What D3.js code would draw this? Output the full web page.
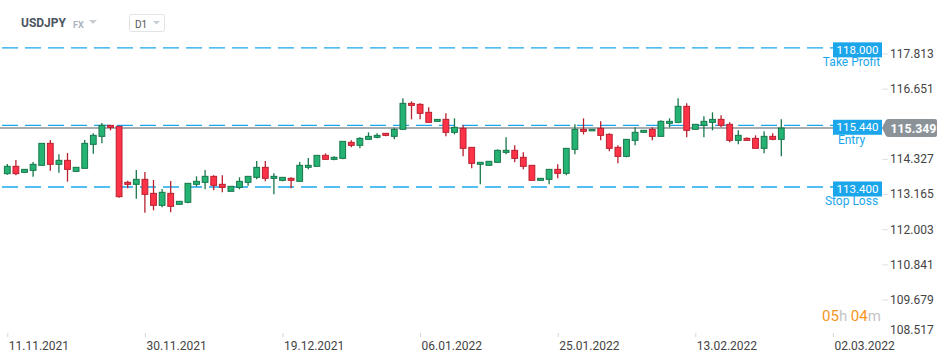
<!DOCTYPE html>
<html>
<head>
<meta charset="utf-8">
<script src="https://cdn.jsdelivr.net/npm/d3@7"></script>
<style>
  html, body { margin: 0; padding: 0; background: #fff; }
  svg { display: block; font-family: Roboto, 'Noto Sans', sans-serif; }
</style>
</head>
<body>
<svg id="chart"></svg>
<script>
// USDJPY D1 candles (oldest first)
const open = [113.840,114.083,113.884,113.950,114.116,114.843,114.149,114.281,113.917,114.017,
  114.810,115.074,115.438,115.405,113.554,113.488,113.653,113.190,112.793,113.190,
  112.826,112.893,113.488,113.554,113.752,113.488,113.256,113.388,113.554,113.719,
  114.050,113.686,113.620,113.686,113.587,114.050,114.083,114.446,114.314,114.347,
  114.876,114.777,114.975,115.041,115.174,115.074,115.306,116.165,116.132,115.868,
  115.570,115.636,115.207,115.339,114.711,114.149,114.116,114.215,114.545,114.612,
  114.380,114.116,113.620,113.653,113.983,113.851,114.645,115.306,115.273,115.339,
  115.140,114.711,114.413,114.942,115.207,115.306,115.074,115.504,115.537,116.066,
  115.306,115.438,115.537,115.636,115.471,114.942,115.008,115.008,114.678,115.074,
  114.975];
const high = [114.160,114.292,113.983,114.226,114.843,114.953,114.479,114.523,114.050,114.953,
  115.174,115.515,115.438,115.405,113.609,113.961,113.895,113.631,113.333,113.598,
  112.926,113.521,113.752,113.961,113.785,113.785,113.422,113.719,113.752,114.259,
  114.259,113.851,113.719,113.719,114.226,114.358,114.446,114.512,114.413,114.909,
  114.942,115.041,115.207,115.174,115.174,115.361,116.331,116.231,116.165,116.033,
  115.636,115.835,115.669,115.438,114.711,114.215,114.248,114.645,115.041,114.777,
  114.545,114.116,113.686,113.983,114.149,114.678,115.471,115.669,115.306,115.570,
  115.174,114.777,114.975,115.372,115.273,115.372,115.603,115.669,116.331,116.165,
  115.471,115.736,115.868,115.769,115.537,115.273,115.041,115.107,115.240,115.174,
  115.636];
const low = [113.807,113.785,113.884,113.741,114.116,113.939,113.873,113.576,113.917,114.017,
  114.501,114.843,115.273,113.047,113.355,113.014,112.551,112.628,112.727,112.562,
  112.826,112.859,113.410,113.322,113.289,113.223,113.256,113.322,113.444,113.653,
  113.587,113.157,113.587,113.355,113.587,113.983,114.083,114.314,114.281,114.314,
  114.711,114.678,114.975,115.008,115.074,114.975,115.306,115.636,115.636,115.537,
  115.570,115.074,115.140,114.413,114.017,113.488,114.116,114.215,114.479,114.215,
  113.983,113.620,113.620,113.488,113.686,113.785,114.479,115.140,115.273,114.942,
  114.578,114.182,114.380,114.777,115.207,114.942,115.074,115.372,115.504,115.041,
  115.306,115.041,115.273,115.372,114.876,114.810,114.942,114.678,114.512,114.942,
  114.413];
const close = [114.083,113.840,113.983,114.149,114.843,114.149,114.281,113.983,114.050,114.843,
  115.107,115.438,115.372,113.080,113.488,113.653,113.157,112.793,113.223,112.760,
  112.926,113.521,113.587,113.752,113.455,113.388,113.422,113.587,113.752,114.050,
  113.686,113.752,113.719,113.620,114.116,114.116,114.446,114.314,114.380,114.909,
  114.777,115.008,115.074,115.107,115.107,115.306,116.165,116.099,115.835,115.537,
  115.636,115.207,115.372,114.678,114.182,114.215,114.248,114.612,114.612,114.347,
  114.083,113.620,113.686,113.983,113.851,114.678,115.306,115.240,115.306,115.107,
  114.678,114.413,114.975,115.207,115.273,115.074,115.570,115.570,116.066,115.273,
  115.471,115.570,115.636,115.438,114.942,115.107,114.942,114.678,115.074,114.975,
  115.349];

// axes
const priceTicks = [117.813, 116.651, 115.489, 114.327, 113.165, 112.003, 110.841, 109.679, 108.517];
const dateTickIndex = [0, 16, 32, 48, 64, 80, 96];
const dateTickLabels = ['11.11.2021', '30.11.2021', '19.12.2021', '06.01.2022', '25.01.2022', '13.02.2022', '02.03.2022'];

// trade levels
const levelValues = [118.000, 115.440, 113.400];
const levelNames = ['Take Profit', 'Entry', 'Stop Loss'];
const lastPrice = 115.349;

const width = 950, height = 360;
const green = '#24b373', greenDark = '#17774b';
const red = '#ff3347', redDark = '#b8202f';
const blue = '#1ba6ec';

const svg = d3.select('#chart')
  .attr('width', width)
  .attr('height', height)
  .attr('viewBox', [0, 0, width, height]);

const x = d3.scaleLinear([0, 96], [7.3, 832.9]);
const y = d3.scaleLinear([108.517, 117.813], [334.7, 53.5]);
const bodyW = 5.8;

// Header
const head = svg.append('g');
head.append('text').attr('x', 21).attr('y', 27)
  .attr('font-size', 12).attr('font-weight', 700).attr('fill', '#4b5560').text('USDJPY');
head.append('text').attr('x', 73).attr('y', 27.5)
  .attr('font-size', 9).attr('font-weight', 700).attr('fill', '#a9b4c0').text('FX');
head.append('path').attr('d', 'M89,20 L97,20 L93,24 Z').attr('fill', '#c8cdd2');
head.append('rect').attr('x', 129.5).attr('y', 14.5).attr('width', 35).attr('height', 17).attr('rx', 2)
  .attr('fill', '#fff').attr('stroke', '#e1e3e6');
head.append('text').attr('x', 135).attr('y', 27.5)
  .attr('font-size', 10).attr('fill', '#555').text('D1');
head.append('path').attr('d', 'M153,21 L160,21 L156.5,24.5 Z').attr('fill', '#c8cdd2');

// Y axis (right)
svg.append('g')
  .attr('transform', 'translate(882,0)')
  .call(d3.axisRight(y).tickValues(priceTicks).tickSize(6).tickPadding(2).tickFormat(d3.format('.3f')))
  .call(g => g.select('.domain').remove())
  .call(g => g.selectAll('.tick line').attr('stroke', '#e0e0e0'))
  .call(g => g.selectAll('.tick text')
    .attr('font-family', 'Roboto, sans-serif').attr('font-size', 12).attr('fill', '#444'))
  .call(g => g.selectAll('.tick').filter(d => d === 108.517)
    .call(t => t.select('line').remove())
    .call(t => t.select('text').attr('y', -5)));

// X axis
svg.append('g')
  .attr('transform', 'translate(0,333)')
  .call(d3.axisBottom(x).tickValues(dateTickIndex).tickSize(4).tickPadding(4)
    .tickFormat((d, i) => dateTickLabels[i]))
  .call(g => g.select('.domain').remove())
  .call(g => g.selectAll('.tick line').attr('stroke', '#d6d6d6'))
  .call(g => g.selectAll('.tick text')
    .attr('text-anchor', 'start').attr('x', 1)
    .attr('font-family', 'Roboto, sans-serif').attr('font-size', 12).attr('fill', '#444'));

// Level lines
svg.append('g')
  .selectAll('line')
  .data(levelValues)
  .join('line')
    .attr('x1', 2).attr('x2', 833)
    .attr('y1', d => y(d)).attr('y2', d => y(d))
    .attr('stroke', blue).attr('stroke-width', 1.3)
    .attr('stroke-dasharray', '16,7');

// Last price line
svg.append('line')
  .attr('x1', 0).attr('x2', 882)
  .attr('y1', y(lastPrice)).attr('y2', y(lastPrice))
  .attr('stroke', '#8b9298').attr('stroke-width', 1.5);

// Candles
const I = d3.range(close.length);
const candles = svg.append('g');
candles.selectAll('line')
  .data(I)
  .join('line')
    .attr('x1', i => x(i)).attr('x2', i => x(i))
    .attr('y1', i => y(high[i])).attr('y2', i => y(low[i]))
    .attr('stroke', i => close[i] >= open[i] ? greenDark : redDark)
    .attr('stroke-width', 1.3);
candles.selectAll('rect')
  .data(I)
  .join('rect')
    .attr('x', i => x(i) - bodyW / 2)
    .attr('y', i => y(Math.max(open[i], close[i])))
    .attr('width', bodyW)
    .attr('height', i => Math.max(1.5, Math.abs(y(open[i]) - y(close[i]))))
    .attr('fill', i => close[i] >= open[i] ? green : red)
    .attr('stroke', i => close[i] >= open[i] ? greenDark : redDark)
    .attr('stroke-width', 1);

// Level tags
const tags = svg.append('g')
  .selectAll('g')
  .data(levelValues)
  .join('g')
    .attr('transform', d => `translate(857.5,${y(d)})`);
tags.append('rect')
  .attr('x', -24.5).attr('y', -5.5).attr('width', 49).attr('height', 15)
  .attr('fill', blue);
tags.append('text')
  .attr('y', 6).attr('text-anchor', 'middle')
  .attr('font-size', 11.5).attr('fill', '#fff')
  .text(d => d3.format('.3f')(d));
tags.append('text')
  .attr('x', -6).attr('y', 18.5).attr('text-anchor', 'middle')
  .attr('font-size', 12).attr('fill', blue)
  .text((d, i) => levelNames[i]);

// Last price tag
const lp = svg.append('g').attr('transform', `translate(882,${y(lastPrice)})`);
lp.append('path')
  .attr('d', 'M0,0 L4,-8 Q5,-9 7,-9 L53,-9 Q55,-9 55,-7 L55,7 Q55,9 53,9 L7,9 Q5,9 4,8 Z')
  .attr('fill', '#8b9399');
lp.append('text')
  .attr('x', 8.5).attr('y', 4.5)
  .attr('font-size', 12.3).attr('font-weight', 700).attr('fill', '#fff')
  .text(d3.format('.3f')(lastPrice));

// Candle countdown
const cd = svg.append('text').attr('x', 822).attr('y', 321).attr('font-size', 15);
cd.append('tspan').attr('fill', '#f7941d').text('05');
cd.append('tspan').attr('fill', '#c4c4c4').text('h ');
cd.append('tspan').attr('fill', '#f7941d').text('04');
cd.append('tspan').attr('fill', '#c4c4c4').text('m');
</script>
</body>
</html>
